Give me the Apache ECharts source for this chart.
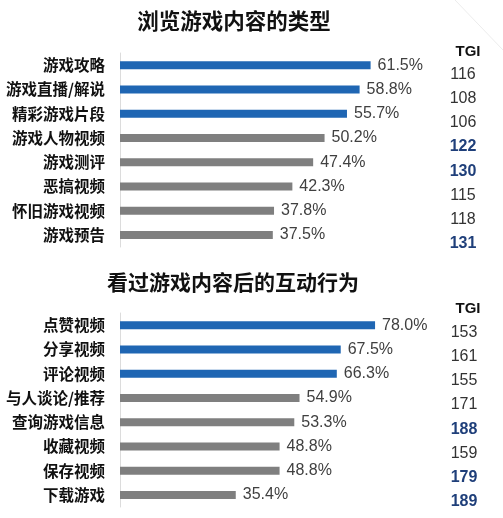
<!DOCTYPE html>
<html>
<head>
<meta charset="utf-8">
<script src="https://cdn.jsdelivr.net/npm/echarts@6/dist/echarts.min.js"></script>
<style>html,body{margin:0;padding:0;background:#fff}#c{width:503px;height:518px}</style>
</head>
<body>
<div id="c"></div>
<script>
const title1 = '浏览游戏内容的类型';
const categories1 = ['游戏攻略','游戏直播/解说','精彩游戏片段','游戏人物视频','游戏测评','恶搞视频','怀旧游戏视频','游戏预告'];
const values1 = [61.5, 58.8, 55.7, 50.2, 47.4, 42.3, 37.8, 37.5];
const tgi1 = [116, 108, 106, 122, 130, 115, 118, 131];

const title2 = '看过游戏内容后的互动行为';
const categories2 = ['点赞视频','分享视频','评论视频','与人谈论/推荐','查询游戏信息','收藏视频','保存视频','下载游戏'];
const values2 = [78.0, 67.5, 66.3, 54.9, 53.3, 48.8, 48.8, 35.4];
const tgi2 = [153, 161, 155, 171, 188, 159, 179, 189];

const tgiHeader = 'TGI';

const BLUE = '#1f66b3', GRAY = '#7f7f7f', NAVY = '#1f3f7a';
const CJK = '"Noto Sans CJK SC", "Liberation Sans", sans-serif';
const NUM = '"Liberation Sans", Arial, sans-serif';

function topN(arr, n) {
  const sorted = arr.slice().sort((a, b) => b - a);
  const thr = sorted[n - 1];
  return arr.map(v => v >= thr);
}

const chart = echarts.init(document.getElementById('c'), null, {renderer: 'canvas'});

function build(cats, vals, tgi, gi) {
  const hiBar = topN(vals, 3);
  const hiTgi = topN(tgi, 3);
  const yCat = {
    type: 'category', gridIndex: gi, data: cats, inverse: true,
    axisLine: {show: true, lineStyle: {color: '#dcdcdc', width: 1}},
    axisTick: {show: false},
    axisLabel: {margin: 15, color: '#111', fontWeight: 'bold', fontSize: 15.5, fontFamily: CJK}
  };
  const yTgi = {
    type: 'category', gridIndex: gi, data: tgi.map(String), inverse: true, position: 'right',
    axisLine: {show: false}, axisTick: {show: false},
    axisLabel: {
      margin: 17, align: 'center',
      padding: [gi === 0 ? 18 : 14, 0, 0, 0],
      formatter: (v, i) => hiTgi[i] ? '{h|' + v + '}' : '{n|' + v + '}',
      rich: {
        n: {color: '#333', fontSize: 16, fontFamily: NUM},
        h: {color: NAVY, fontSize: 16, fontWeight: 'bold', fontFamily: NUM}
      }
    }
  };
  const series = {
    type: 'bar', xAxisIndex: gi, yAxisIndex: gi * 2, barWidth: 8,
    data: vals.map((v, i) => ({value: v, itemStyle: {color: hiBar[i] ? BLUE : GRAY}})),
    label: {
      show: true, position: 'right', distance: 7,
      formatter: p => p.value.toFixed(1) + '%',
      color: '#404040', fontSize: 16, fontFamily: NUM
    },
    animation: false
  };
  return {yCat, yTgi, series};
}

const a = build(categories1, values1, tgi1, 0);
const b = build(categories2, values2, tgi2, 1);

chart.setOption({
  animation: false,
  grid: [
    {left: 120, top: 53, width: 326, height: 194},
    {left: 120, top: 313, width: 327, height: 194}
  ],
  xAxis: [
    {type: 'value', gridIndex: 0, min: 0, max: 80, show: false},
    {type: 'value', gridIndex: 1, min: 0, max: 100, show: false}
  ],
  yAxis: [a.yCat, a.yTgi, b.yCat, b.yTgi],
  series: [a.series, b.series],
  title: [
    {text: title1, left: 229, top: 5, textAlign: 'center',
     textStyle: {fontSize: 21.5, fontWeight: 'bold', color: '#111', fontFamily: CJK}},
    {text: title2, left: 228, top: 267, textAlign: 'center',
     textStyle: {fontSize: 21, fontWeight: 'bold', color: '#111', fontFamily: CJK}},
    {text: tgiHeader, left: 463, top: 39, textAlign: 'center',
     textStyle: {fontSize: 15, fontWeight: 'bold', color: '#111', fontFamily: NUM}},
    {text: tgiHeader, left: 463, top: 296, textAlign: 'center',
     textStyle: {fontSize: 15, fontWeight: 'bold', color: '#111', fontFamily: NUM}}
  ],
  graphic: [
    {type: 'line', shape: {x1: 455, y1: 0, x2: 503, y2: 50}, style: {stroke: '#ececec', lineWidth: 1}, silent: true}
  ]
});
</script>
</body>
</html>
